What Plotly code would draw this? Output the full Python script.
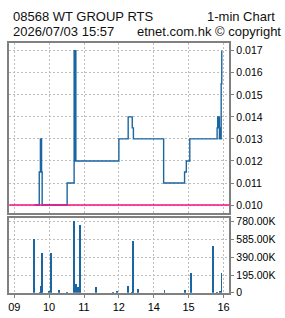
import plotly.graph_objects as go

# ---------------- data ----------------
title_left = "08568 WT GROUP RTS"
title_right = "1-min Chart"
stamp = "2026/07/03 15:57"
credit = "etnet.com.hk © copyright"

prev_close = 0.010

price_times = ["09:35", "09:43", "09:45", "09:47", "09:48", "10:31", "10:43", "10:44",
               "10:45", "10:46", "13:00", "13:16", "13:23", "13:25", "14:17", "14:53",
               "14:56", "15:02", "15:49", "15:50", "15:51", "15:52", "15:53", "15:54",
               "15:55", "15:56", "15:57"]
prices = [0.010, 0.0115, 0.013, 0.0115, 0.010, 0.011, 0.017, 0.012,
          0.017, 0.012, 0.013, 0.014, 0.0135, 0.013, 0.011, 0.0115,
          0.012, 0.013, 0.0135, 0.014, 0.0135, 0.014, 0.013, 0.0135,
          0.013, 0.0155, 0.017]

vol_times = ["09:34", "09:45", "09:47", "09:48", "10:00", "10:03", "10:17", "10:31",
             "10:43", "10:46", "10:50", "10:53", "11:21", "11:50", "11:57", "13:16",
             "13:23", "13:25", "13:34", "14:19", "14:55", "15:04", "15:42", "15:50",
             "15:54", "15:57"]
volumes = [590000, 7000, 75000, 440000, 21000, 440000, 32000, 11000,
           787000, 97000, 64000, 751000, 64000, 11000, 21000, 75000,
           11000, 572000, 43000, 32000, 32000, 225000, 515000, 11000,
           21000, 225000]

hour_ticks = ["09:00", "10:00", "11:00", "12:00", "14:00", "15:00", "16:00"]
hour_labels = ["09", "10", "11", "12", "14", "15", "16"]

price_ticks = [0.010, 0.011, 0.012, 0.013, 0.014, 0.015, 0.016, 0.017]
price_labels = ["0.010", "0.011", "0.012", "0.013", "0.014", "0.015", "0.016", "0.017"]

vol_ticks = [0, 195000, 390000, 585000, 780000]
vol_labels = ["0", "195.00K", "390.00K", "585.00K", "780.00K"]

price_range = (0.009659, 0.017354)
vol_max = 822700


def tmin(s):
    """minutes since 09:00 with the 12:00-13:00 lunch break removed"""
    h, m = map(int, s.split(":"))
    v = h * 60 + m - 9 * 60
    if h >= 13:
        v -= 60
    return v


W, H = 285, 318
left, right = 8.3, 229.3
top1, bot1 = 42.0, 216.0
top2, bot2 = 221.3, 298.3

BLUE = "#1a66a3"
PINK = "#ff0a80"
FRAME = "#808080"
GRID = "#bdbdbd"
FONT = "Liberation Sans, Arial, sans-serif"

fig = go.Figure()

fig.add_trace(go.Scatter(
    x=[tmin(t) for t in price_times], y=prices, mode="lines",
    line=dict(color=BLUE, width=1.4, shape="hv"),
    xaxis="x2", yaxis="y", showlegend=False, hoverinfo="skip"))

fig.add_trace(go.Bar(
    x=[tmin(t) for t in vol_times], y=volumes, width=1.6,
    marker=dict(color=BLUE, line=dict(width=0)),
    xaxis="x", yaxis="y2", showlegend=False, hoverinfo="skip"))

xr = [-8.57, 370.3]
xtv = [tmin(t) for t in hour_ticks]

axis_common = dict(showline=True, linecolor=FRAME, linewidth=1.5, mirror=True,
                   showgrid=True, gridcolor=GRID, gridwidth=1, griddash="2px,2px",
                   zeroline=False, fixedrange=True)

fig.update_layout(
    width=W, height=H,
    margin=dict(l=0, r=0, t=0, b=0),
    paper_bgcolor="white", plot_bgcolor="white",
    bargap=0,
    xaxis=dict(domain=[left / W, right / W], anchor="y2", range=xr,
               tickvals=xtv, ticktext=hour_labels, ticks="outside", ticklen=3,
               tickcolor=FRAME, tickfont=dict(family=FONT, size=11, color="#000"),
               **axis_common),
    xaxis2=dict(domain=[left / W, right / W], anchor="y", range=xr, matches="x",
                tickvals=xtv, showticklabels=False, ticks="",
                **axis_common),
    yaxis=dict(domain=[1 - bot1 / H, 1 - top1 / H], anchor="x2", side="right",
               range=list(price_range), tickvals=price_ticks, ticktext=price_labels,
               ticks="outside", ticklen=3, tickcolor=FRAME,
               tickfont=dict(family=FONT, size=10.5, color="#000"),
               **axis_common),
    yaxis2=dict(domain=[1 - bot2 / H, 1 - top2 / H], anchor="x", side="right",
                range=[0, vol_max], tickvals=vol_ticks, ticktext=vol_labels,
                ticks="outside", ticklen=3, tickcolor=FRAME,
                tickfont=dict(family=FONT, size=10.5, color="#000"),
                **axis_common),
)

fig.add_shape(type="line", xref="x2 domain", yref="y", x0=0, x1=1,
              y0=prev_close, y1=prev_close, line=dict(color=PINK, width=1.5),
              layer="above")

ann_font = dict(family=FONT, size=13, color="#111")
fig.add_annotation(text=title_left, xref="paper", yref="paper", x=10 / W, y=1 - 14.5 / H,
                   xanchor="left", yanchor="middle", showarrow=False, font=ann_font)
fig.add_annotation(text=title_right, xref="paper", yref="paper", x=277 / W, y=1 - 14.5 / H,
                   xanchor="right", yanchor="middle", showarrow=False, font=ann_font)
fig.add_annotation(text=stamp, xref="paper", yref="paper", x=10 / W, y=1 - 30.5 / H,
                   xanchor="left", yanchor="middle", showarrow=False, font=ann_font)
fig.add_annotation(text=credit, xref="paper", yref="paper", x=283 / W, y=1 - 30.5 / H,
                   xanchor="right", yanchor="middle", showarrow=False, font=ann_font)

fig.write_html("out.html", config={"displayModeBar": False})
